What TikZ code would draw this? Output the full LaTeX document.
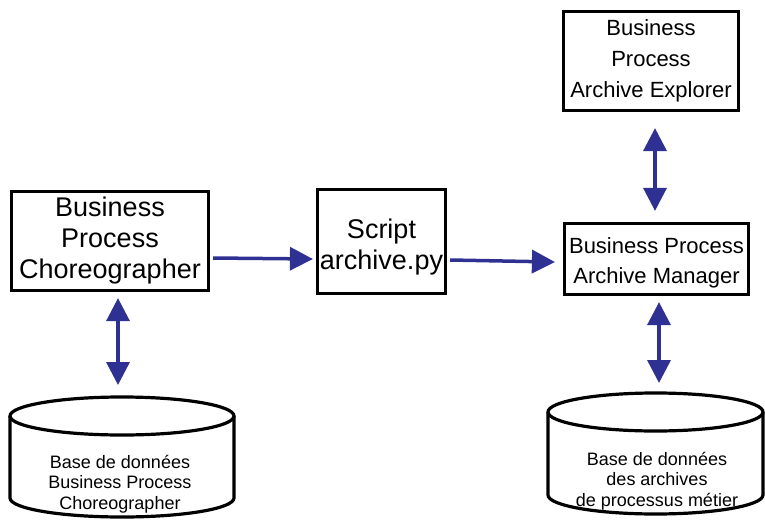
\documentclass[tikz,border=0pt]{standalone}
\usepackage{fontspec}
\setmainfont{Liberation Sans}
\usetikzlibrary{arrows.meta}
\usetikzlibrary{positioning,calc}
\definecolor{pfeilblau}{RGB}{46,49,146}

\begin{document}
\begin{tikzpicture}[x=1pt,y=-1pt,line width=3.2pt]
	\useasboundingbox (0,0) rectangle (765,519);
	\clip (0,0) rectangle (765,519);

	\begin{scope}[every node/.style={draw,rectangle,align=center,inner sep=0pt}]
		\node[minimum width=197pt,minimum height=99pt,font=\fontsize{27}{31}\selectfont] (choreo) at (110,241) {Business\\Process\\Choreographer};
		\node[minimum width=128pt,minimum height=104pt,
			label={[draw=none,font=\fontsize{27}{31}\selectfont,yshift=-6pt]center:Script\\archive.py}] (script) at (381.5,241.5) {};
		\node[minimum width=184pt,minimum height=71pt,
			label={[draw=none,font=\fontsize{22}{30}\selectfont,yshift=-4pt]center:Business Process\\Archive Manager}] (manager) at (656.5,259) {};
		\node[minimum width=175pt,minimum height=99pt,font=\fontsize{22}{31}\selectfont] (explorer) at (651,61) {Business\\Process\\Archive Explorer};
	\end{scope}

	% Datenbanken
	\draw (122,416) ellipse (112 and 19);
	\draw (10,416) -- (10,498) arc[start angle=180,end angle=0,x radius=112,y radius=19] -- (234,416);
	\coordinate (dbltop) at (118,397);
	\node[align=center,font=\fontsize{18}{20.5}\selectfont] (dbl) at (120,484) {Base de données\\Business Process\\Choreographer};

	\draw (655.5,412) ellipse (107.5 and 19);
	\draw (548,412) -- (548,495) arc[start angle=180,end angle=0,x radius=107.5,y radius=19] -- (763,412);
	\coordinate (dbrtop) at (659,393);
	\node[align=center,font=\fontsize{18}{20.5}\selectfont] (dbr) at (657,481) {Base de données\\des archives\\de processus métier};

	\begin{scope}[pfeilblau,line width=3.5pt,>={Triangle[length=23pt,width=23pt]}]
		\draw[->] ([yshift=-17pt,xshift=3pt]choreo.east) -- ([yshift=-17.5pt,xshift=-3pt]script.west);
		\draw[->] ([yshift=-18.5pt,xshift=3pt]script.east) -- ([yshift=-3pt,xshift=-8pt]manager.west);
		\draw[<->] ([xshift=8pt,yshift=-6pt]choreo.south) -- ([yshift=12pt]dbltop);
		\draw[<->] ([xshift=4pt,yshift=-16pt]explorer.south) -- ([xshift=-1.5pt,yshift=11pt]manager.north);
		\draw[<->] ([xshift=2.5pt,yshift=-6pt]manager.south) -- ([yshift=10pt]dbrtop);
	\end{scope}
\end{tikzpicture}
\end{document}
